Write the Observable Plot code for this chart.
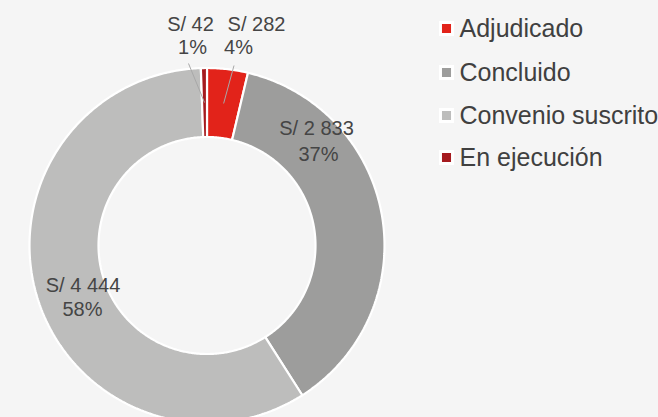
<!DOCTYPE html>
<html>
<head>
<meta charset="utf-8">
<script src="https://cdn.jsdelivr.net/npm/d3@7"></script>
<script src="https://cdn.jsdelivr.net/npm/@observablehq/plot@0.6"></script>
<style>
  html, body { margin: 0; padding: 0; background: #f5f5f5; }
  #chart svg { display: block; background: #f5f5f5; }
</style>
</head>
<body>
<div id="chart"></div>
<script>
// ---- data ----
const categories = ["Adjudicado", "Concluido", "Convenio suscrito", "En ejecución"];
const values = [282, 2833, 4444, 42];
const amountLabels = ["S/ 282", "S/ 2 833", "S/ 4 444", "S/ 42"];
const percentLabels = ["4%", "37%", "58%", "1%"];
const colors = ["#e2231a", "#9d9d9c", "#bdbdbc", "#a51b1f"];

// ---- layout (pixel units relative to ring centre, y up) ----
const W = 658, H = 417;
const CX = 206.5, CY = 245;
const R_OUT = 177.5, R_IN = 108.5;
const px = (x) => x - CX;          // pixel x -> data x
const py = (y) => CY - y;          // pixel y -> data y
// manual label placement (centre of each text line), as in the original
const labelLayout = [
  {amount: [256, 23.6], pct: [238, 47], leader: [233.5, 65]},
  {amount: [316, 128], pct: [318, 153.6]},
  {amount: [82.5, 285.3], pct: [82, 309.3]},
  {amount: [190, 23.6], pct: [192, 47], leader: [188, 63]}
];
const legendRows = [28, 72, 115, 157];
const legendSwatchX = 446, legendTextX = 459;

// ---- geometry from values ----
const total = d3.sum(values);
const ends = d3.cumsum(values).map(v => v / total * 2 * Math.PI);
const starts = [0, ...ends.slice(0, -1)];
const polys = [];
categories.forEach((cat, i) => {
  const a0 = starts[i], a1 = ends[i];
  const n = Math.max(4, Math.ceil((a1 - a0) / 0.01));
  for (let k = 0; k <= n; k++) {
    const a = a0 + (a1 - a0) * k / n;
    polys.push({cat, x: R_OUT * Math.sin(a), y: R_OUT * Math.cos(a)});
  }
  for (let k = n; k >= 0; k--) {
    const a = a0 + (a1 - a0) * k / n;
    polys.push({cat, x: R_IN * Math.sin(a), y: R_IN * Math.cos(a)});
  }
});

const labels = categories.map((cat, i) => ({
  cat,
  amount: amountLabels[i],
  pct: percentLabels[i],
  ax: px(labelLayout[i].amount[0]), ay: py(labelLayout[i].amount[1]),
  px: px(labelLayout[i].pct[0]), py: py(labelLayout[i].pct[1])
}));

const RM = (R_OUT + R_IN) / 2;
const leaders = categories.map((cat, i) => {
  const L = labelLayout[i].leader;
  if (!L) return null;
  const mid = (starts[i] + ends[i]) / 2;
  return {x1: px(L[0]), y1: py(L[1]), x2: RM * Math.sin(mid), y2: RM * Math.cos(mid)};
}).filter(d => d);

const legend = categories.map((cat, i) => ({
  cat, sx: px(legendSwatchX), tx: px(legendTextX), y: py(legendRows[i])
}));

const chart = Plot.plot({
  width: W,
  height: H,
  margin: 0,
  x: {domain: [-CX, W - CX], range: [0, W], axis: null},
  y: {domain: [CY, CY - H], range: [0, H], axis: null},
  color: {domain: categories, range: colors},
  style: {background: "#f5f5f5", fontFamily: "'Liberation Sans', Arial, sans-serif"},
  marks: [
    Plot.line(polys, {x: "x", y: "y", z: "cat", fill: "cat", stroke: "white", strokeWidth: 2.2, curve: "linear-closed", strokeLinejoin: "miter"}),
    Plot.link(leaders, {x1: "x1", y1: "y1", x2: "x2", y2: "y2", stroke: "#a8a8a8", strokeWidth: 1}),
    Plot.text(labels, {x: "ax", y: "ay", text: "amount", fontSize: 20, fill: "#454545", textAnchor: "middle"}),
    Plot.text(labels, {x: "px", y: "py", text: "pct", fontSize: 20, fill: "#454545", textAnchor: "middle"}),
    Plot.dot(legend, {x: "sx", y: "y", fill: "cat", symbol: "square", r: 6.8, stroke: "white", strokeWidth: 3}),
    Plot.text(legend, {x: "tx", y: "y", text: "cat", fontSize: 25, fill: "#404040", textAnchor: "start"})
  ]
});
document.getElementById("chart").appendChild(chart);
</script>
</body>
</html>
